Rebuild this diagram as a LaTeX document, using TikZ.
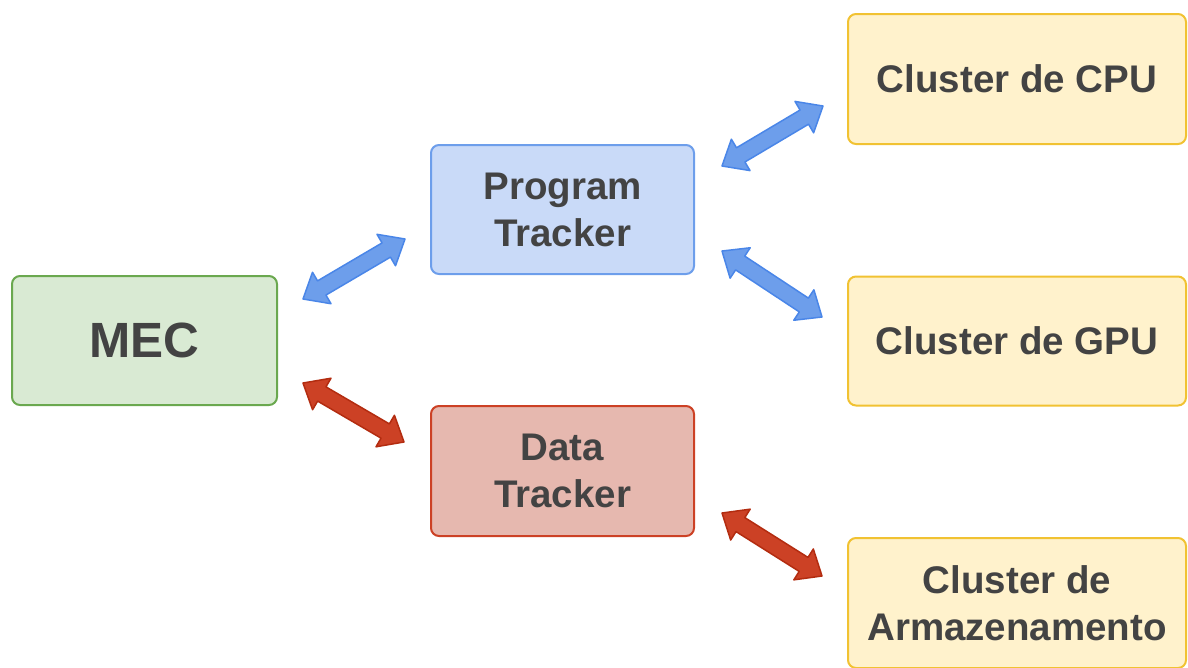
\documentclass[tikz,border=0pt]{standalone}
\usepackage{fontspec}
\setmainfont{Liberation Sans}
\usetikzlibrary{shapes.arrows,calc}

\definecolor{txt}{HTML}{434343}
\definecolor{mecfill}{HTML}{D9EAD3}
\definecolor{mecline}{HTML}{6AA84F}
\definecolor{ptfill}{HTML}{C9DAF8}
\definecolor{ptline}{HTML}{6D9EEB}
\definecolor{dtfill}{HTML}{E6B8AF}
\definecolor{dtline}{HTML}{CC4125}
\definecolor{clfill}{HTML}{FFF2CC}
\definecolor{clline}{HTML}{F1C232}
\definecolor{bluearr}{HTML}{6D9EEB}
\definecolor{bluearrline}{HTML}{4A86E8}
\definecolor{redarr}{HTML}{CC4125}
\definecolor{redarrline}{HTML}{B32C10}

% fat two-headed arrow between two named points
\newcommand\fatlink[4]{%
  \path let \p1=(#1), \p2=(#2),
            \n1={atan2(\y2-\y1,\x2-\x1)},
            \n2={veclen(\x2-\x1,\y2-\y1)} in
    node[fatarrow, fill=#3, draw=#4, rotate=\n1, minimum height=\n2]
      at ($(#1)!0.5!(#2)$) {};%
}

\begin{document}
\begin{tikzpicture}[x=1pt,y=-1pt,
  box/.style={rounded corners=8pt, line width=2pt, text=txt, align=center,
    inner sep=0pt, minimum height=129pt,
    font=\bfseries\fontsize{38.5}{47}\selectfont},
  fatarrow/.style={double arrow, inner sep=7.5pt, double arrow head extend=10pt,
    double arrow tip angle=80, line width=1.5pt, line join=round, outer sep=0pt}
]
\useasboundingbox (0,0) rectangle (1188,667);
\clip (0,0) rectangle (1188,667);

% boxes
\node[box, fill=mecfill, draw=mecline, minimum width=265pt,
      font=\bfseries\fontsize{49.5}{59}\selectfont] (mec) at (144.5,340.5) {MEC};
\node[box, fill=ptfill, draw=ptline, minimum width=263pt] (pt) at (562.5,209.5) {Program\\Tracker};
\node[box, fill=dtfill, draw=dtline, minimum width=263pt, minimum height=130pt] (dt) at (562.5,471) {Data\\Tracker};
\node[box, fill=clfill, draw=clline, minimum width=338pt, minimum height=130pt] (cpu) at (1017,79) {Cluster de CPU};
\node[box, fill=clfill, draw=clline, minimum width=338pt] (gpu) at (1017,341) {Cluster de GPU};
\node[box, fill=clfill, draw=clline, minimum width=338pt, minimum height=130pt] (sto) at (1017,603) {Cluster de\\Armazenamento};

% arrow end points
\coordinate (a1s) at ($(mec.east)+(25,-41.5)$);
\coordinate (a1e) at ($(pt.west)+(-25,29.5)$);
\coordinate (a4s) at ($(mec.east)+(25,42.5)$);
\coordinate (a4e) at ($(dt.west)+(-26,-29)$);
\coordinate (a2s) at ($(pt.east)+(27,-43.5)$);
\coordinate (a2e) at ($(cpu.west)+(-24,27)$);
\coordinate (a3s) at ($(pt.east)+(27,41.5)$);
\coordinate (a3e) at ($(gpu.west)+(-25,-24)$);
\coordinate (a5s) at ($(dt.east)+(27,42)$);
\coordinate (a5e) at ($(sto.west)+(-25,-27)$);

% arrows
\fatlink{a1s}{a1e}{bluearr}{bluearrline}
\fatlink{a2s}{a2e}{bluearr}{bluearrline}
\fatlink{a3s}{a3e}{bluearr}{bluearrline}
\fatlink{a4s}{a4e}{redarr}{redarrline}
\fatlink{a5s}{a5e}{redarr}{redarrline}
\end{tikzpicture}
\end{document}
